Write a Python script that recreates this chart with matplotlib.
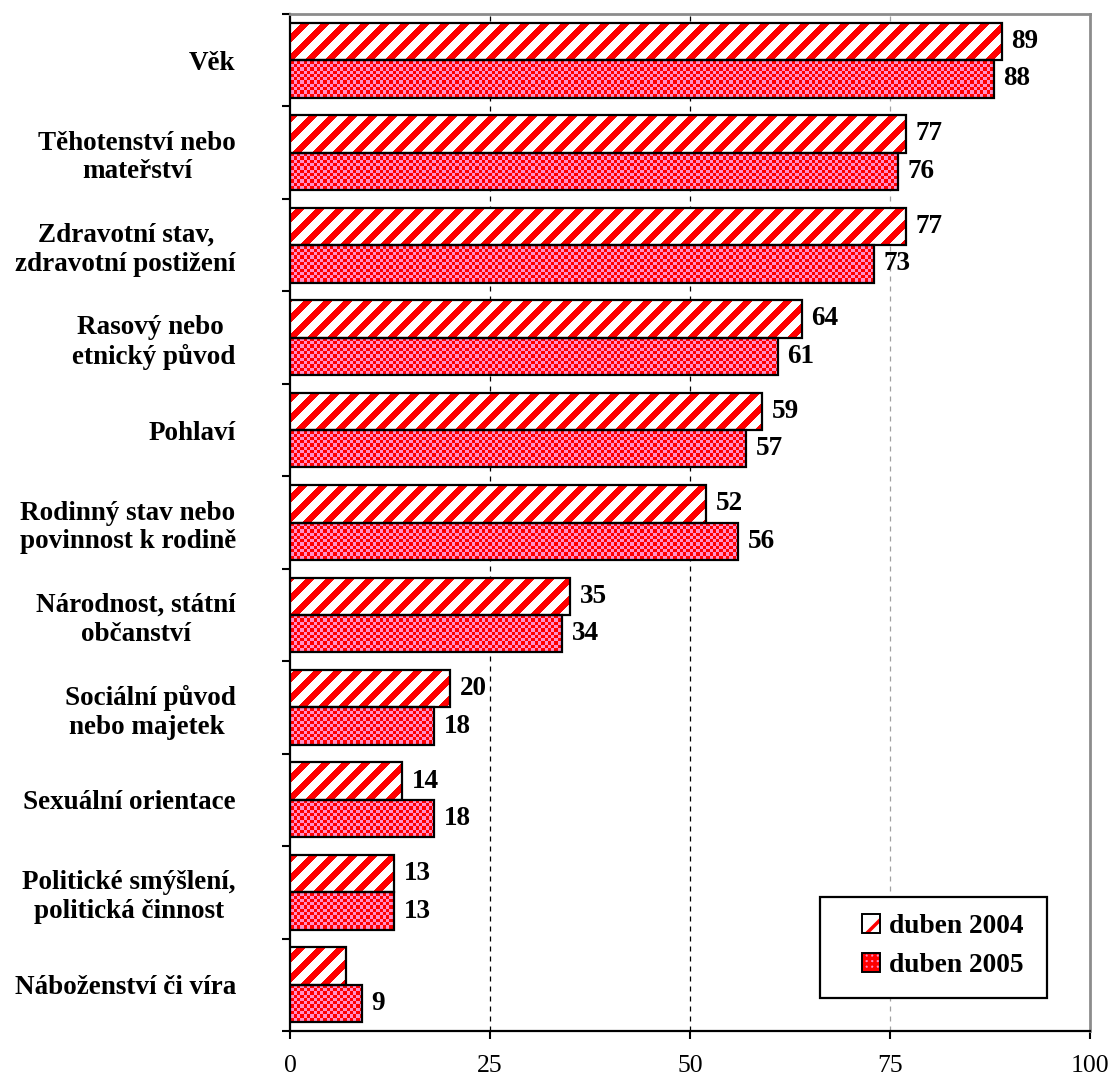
import numpy as np
import matplotlib
matplotlib.use("Agg")
import matplotlib.pyplot as plt
from matplotlib.path import Path
from matplotlib.patches import Patch, Rectangle
from matplotlib.colors import ListedColormap
from matplotlib.legend_handler import HandlerTuple

plt.rcParams['font.family'] = ['Liberation Serif', 'DejaVu Serif']
plt.rcParams['hatch.color'] = 'red'
plt.rcParams['hatch.linewidth'] = 2.5

# data
categories = ["Věk", "Těhotenství nebo\nmateřství", "Zdravotní stav,\nzdravotní postižení",
              "Rasový nebo \netnický původ", "Pohlaví", "Rodinný stav nebo\npovinnost k rodině",
              "Národnost, státní\nobčanství", "Sociální původ\nnebo majetek ", "Sexuální orientace",
              "Politické smýšlení,\npolitická činnost", "Náboženství či víra"]
v2004 = [89, 77, 77, 64, 59, 52, 35, 20, 14, 13, 7]
v2005 = [88, 76, 73, 61, 57, 56, 34, 18, 18, 13, 9]
show2004 = [True] * 10 + [False]
series_names = ["duben 2004", "duben 2005"]

W, H = 800, 1017  # axes size in pixels
fig = plt.figure(figsize=(11.14, 10.84), dpi=100)
ax = fig.add_axes([290 / 1114, 1 - 1031 / 1084, W / 1114, H / 1084])

y = np.arange(len(categories))
h = 0.405
ext = (0, 100, len(categories) - 0.5, -0.5)


def clip_path(bars):
    return Path.make_compound_path(*[b.get_path().transformed(b.get_patch_transform()) for b in bars])


# grid lines
ax.axvline(25, color='black', lw=0.9, ls=(0, (4, 4)), zorder=0)
ax.axvline(50, color='black', lw=0.9, ls=(0, (4, 4)), zorder=0)
ax.axvline(75, color='#a0a0a0', lw=0.9, ls=(0, (4, 4)), zorder=0)

rows, cols = np.mgrid[0:H, 0:W]

# 2004 - red diagonal stripes
bars04 = ax.barh(y - h / 2, v2004, height=h, facecolor='white', lw=0, zorder=2)
stripes = ((cols + rows) % 20 < 9).astype(float)
im1 = ax.imshow(stripes, extent=ext, cmap=ListedColormap(['white', '#ff0000']),
                interpolation='nearest', aspect='auto', zorder=3)
im1.set_clip_path(clip_path(bars04), ax.transData)
ax.barh(y - h / 2, v2004, height=h, fill=False, edgecolor='black', lw=1.6, zorder=4)

# 2005 - red / pink checker
bars05 = ax.barh(y + h / 2, v2005, height=h, facecolor='#ff8fc8', lw=0, zorder=2)
checker = (((cols / 3.3).astype(int) + (rows / 3.3).astype(int)) % 2).astype(float)
im2 = ax.imshow(checker, extent=ext, cmap=ListedColormap(['#ff0000', '#ff8fc8']),
                interpolation='nearest', aspect='auto', zorder=3)
im2.set_clip_path(clip_path(bars05), ax.transData)
ax.barh(y + h / 2, v2005, height=h, fill=False, edgecolor='black', lw=1.6, zorder=4)

# value labels
for i in range(len(categories)):
    if show2004[i]:
        ax.text(v2004[i] + 1.2, y[i] - h / 2, str(v2004[i]), va='center', ha='left',
                fontsize=19.5, fontweight='bold', zorder=5)
    ax.text(v2005[i] + 1.2, y[i] + h / 2, str(v2005[i]), va='center', ha='left',
            fontsize=19.5, fontweight='bold', zorder=5)

ax.set_xlim(0, 100)
ax.set_ylim(len(categories) - 0.5, -0.5)

ax.set_yticks(y)
ax.set_yticklabels(categories, fontsize=19.5, fontweight='bold', multialignment='center')
ax.tick_params(axis='y', which='major', length=0, pad=39)
ax.set_yticks(np.arange(len(categories) + 1) - 0.5, minor=True)
ax.tick_params(axis='y', which='minor', length=6, width=1.5, direction='out')

ax.set_xticks([0, 25, 50, 75, 100])
ax.set_xticklabels(['0', '25', '50', '75', '100'], fontsize=18.5)
ax.tick_params(axis='x', length=6, width=1.5, direction='out', pad=11)

ax.spines['left'].set_linewidth(1.6)
ax.spines['bottom'].set_linewidth(1.6)
for s in ['top', 'right']:
    ax.spines[s].set_color('#8c8c8c')
    ax.spines[s].set_linewidth(2)

# legend
frame = Rectangle((530 / W, 33 / H), 227 / W, 101 / H, transform=ax.transAxes,
                  facecolor='white', edgecolor='black', lw=1.6, zorder=6)
ax.add_patch(frame)
outline = Patch(fill=False, edgecolor='black', lw=1.4)
handles = [(Patch(facecolor='white', edgecolor='red', hatch='/', lw=0), outline),
           (Patch(facecolor='#ff8fc8', edgecolor='red', hatch='+++', lw=0), outline)]
leg = ax.legend(handles, series_names, loc='upper left', bbox_to_anchor=(572 / W, 117 / H),
                frameon=False, borderpad=0, borderaxespad=0,
                handler_map={tuple: HandlerTuple(ndivide=1)},
                prop={'weight': 'bold', 'size': 19.7}, handlelength=0.65, handleheight=0.65,
                handletextpad=0.35, labelspacing=0.52)
leg.set_zorder(7)

fig.savefig('out.png', dpi=100)
